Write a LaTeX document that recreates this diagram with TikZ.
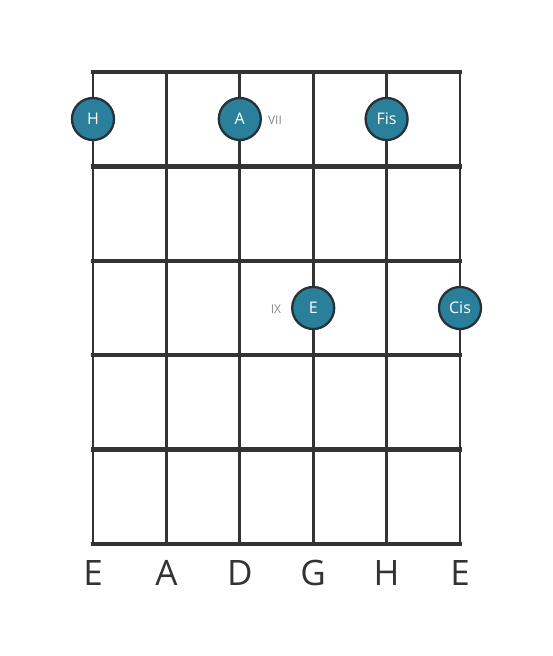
\documentclass[tikz,border=0pt]{standalone}
\usepackage{fontspec}
\setmainfont{Open Sans}
\definecolor{gridc}{HTML}{333333}
\definecolor{notefill}{HTML}{2A7F9A}
\definecolor{noteedge}{HTML}{263238}
\definecolor{markc}{HTML}{888888}
\begin{document}
\begin{tikzpicture}[x=1pt,y=-1pt,
  fretline/.style={draw=gridc,line width=4.5pt},
  stringline/.style={draw=gridc,line width=2.8pt},
  note/.style={circle,fill=notefill,draw=noteedge,line width=2.3pt,minimum size=42pt,inner sep=0pt,text=white,font=\fontsize{16}{16}\selectfont},
  marker/.style={text=markc,font=\fontsize{12}{12}\selectfont},
  strlabel/.style={text=gridc,font=\fontsize{35}{35}\selectfont}]
\useasboundingbox (0,0) rectangle (553,656);
\fill[white] (0,0) rectangle (553,656);
% strings
\foreach \x in {93,166.4,239.8,313.2,386.6,460} \draw[stringline] (\x,72) -- (\x,544);
% frets
\foreach \y in {72,166.4,260.8,355.2,449.6,544} \draw[fretline] (91,\y) -- (462,\y);
% notes
\node[note] (nH) at (93,119) {H};
\node[note] (nA) at (239.8,119) {A};
\node[note] (nFis) at (386.6,119) {Fis};
\node[note] (nE) at (313.2,308) {E};
\node[note] (nCis) at (460,308) {Cis};
\node[marker] (vii) at (275,120) {VII};
\node[marker] (ix) at (276,309) {IX};
% string labels
\node[strlabel] (s1) at (93,573) {E};
\node[strlabel] (s2) at (166.4,573) {A};
\node[strlabel] (s3) at (239.8,573) {D};
\node[strlabel] (s4) at (313.2,573) {G};
\node[strlabel] (s5) at (386.6,573) {H};
\node[strlabel] (s6) at (460,573) {E};
\end{tikzpicture}
\end{document}
